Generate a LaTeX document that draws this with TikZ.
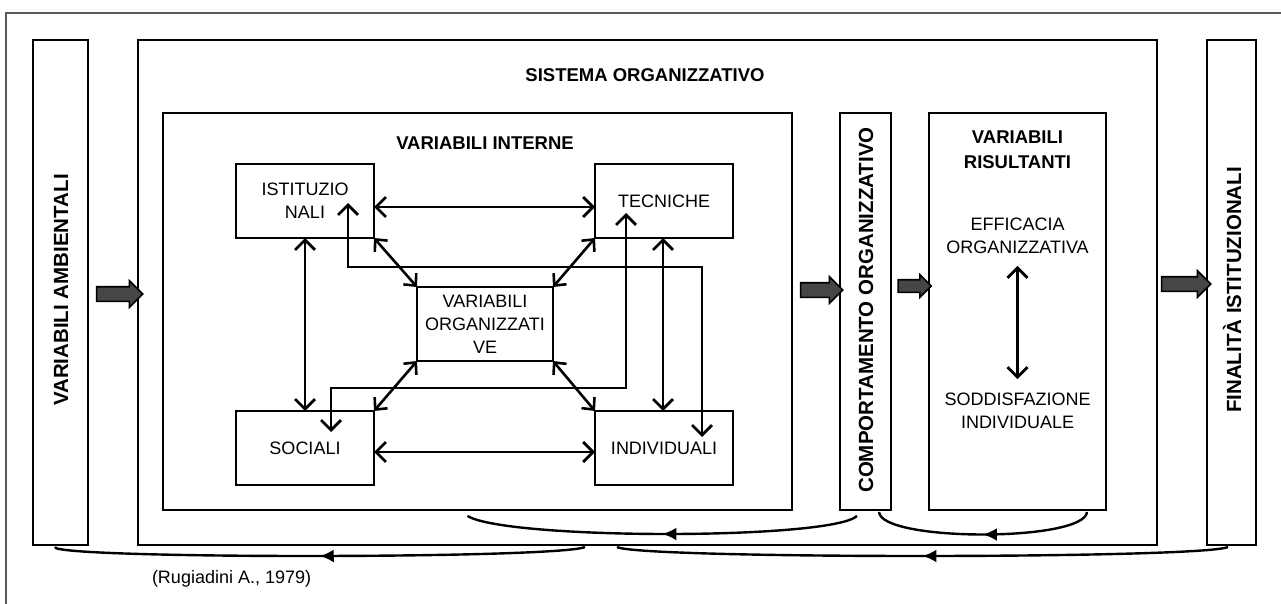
\documentclass[tikz,border=0pt]{standalone}
\usepackage{fontspec}
\setmainfont{Liberation Sans}
\usetikzlibrary{arrows.meta,shapes.arrows,decorations.markings}
\begin{document}
\begin{tikzpicture}[x=1pt,y=-1pt,
  every node/.style={inner sep=0pt, outer sep=0pt},
  frame/.style={draw, line width=2.5pt},
  inbox/.style={draw, line width=2.5pt, align=center, font=\fontsize{18}{23}\selectfont, minimum width=138pt, minimum height=74pt},
  lbl/.style={align=center, font=\fontsize{18}{23}\selectfont},
  ttl/.style={align=center, font=\fontsize{18.5}{25}\selectfont\bfseries},
  vttl/.style={rotate=90, font=\fontsize{20.5}{24}\selectfont\bfseries},
  dbl/.style={line width=2.8pt, {Straight Barb[length=10pt,width=20pt]}-{Straight Barb[length=10pt,width=20pt]}},
  dbls/.style={line width=2.6pt, {Straight Barb[length=9pt,width=17pt]}-{Straight Barb[length=9pt,width=17pt]}},
  midarrow/.style={postaction={decorate}, decoration={markings, mark=at position #1 with {\arrow{Latex[length=14pt,width=13pt]}}}},
  midarrow/.default=0.5,
  fb/.style={line width=2.4pt, midarrow},
  blockarrow/.style={single arrow, draw=black, fill=gray!55!black, line width=1.6pt, inner sep=6.5pt, single arrow head extend=6pt, single arrow tip angle=90}
]
\useasboundingbox (0,0) rectangle (1281,604);
\fill[white] (0,0) rectangle (1281,604);
% outer frame (cropped)
\draw[line width=1.8pt, gray!70!black] (6,604) -- (6,13) -- (1281,13);

% big boxes
\node[frame, minimum width=55pt, minimum height=505pt] (amb) at (60.5,292.5) {};
\node[frame, minimum width=1019pt, minimum height=505pt] (sis) at (647.5,292.5) {};
\node[frame, minimum width=49pt, minimum height=505pt] (fin) at (1231.5,292.5) {};
\node[frame, minimum width=629pt, minimum height=397pt] (vi) at (477.5,311.5) {};
\node[frame, minimum width=51pt, minimum height=397pt] (comp) at (865.5,311.5) {};
\node[frame, minimum width=177pt, minimum height=397pt] (ris) at (1017.5,311.5) {};

% vertical labels
\node[vttl] (tamb) at (61,290) {VARIABILI AMBIENTALI};
\node[vttl] (tcomp) at (866,310) {COMPORTAMENTO ORGANIZZATIVO};
\node[vttl] (tfin) at (1232,290) {FINALITÀ ISTITUZIONALI};

% titles
\node[ttl] (tsis) at (645,75) {SISTEMA ORGANIZZATIVO};
\node[ttl] (tvi) at (485,143) {VARIABILI INTERNE};
\node[ttl] (tris) at (1017.5,150) {VARIABILI\\RISULTANTI};

% results
\node[lbl] (eff) at (1017.5,236) {EFFICACIA\\ORGANIZZATIVA};
\node[lbl] (sod) at (1017.5,411) {SODDISFAZIONE\\INDIVIDUALE};
\draw[dbl] ([yshift=-12pt]eff.south) -- ([yshift=14pt]sod.north);

% inner boxes
\node[inbox] (isti) at (305,201) {ISTITUZIO\\NALI};
\node[inbox] (tec) at (664,201) {TECNICHE};
\node[inbox, minimum width=136pt] (vo) at (485,324) {VARIABILI\\ORGANIZZATI\\VE};
\node[inbox] (soc) at (305,448) {SOCIALI};
\node[inbox] (ind) at (664,448) {INDIVIDUALI};

% connectors among inner boxes
\draw[dbl] ([yshift=-6pt]isti.east) -- ([yshift=-6pt]tec.west);
\draw[dbl] ([yshift=-4pt]soc.east) -- ([yshift=-4pt]ind.west);
\draw[dbl] (isti.south) -- (soc.north);
\draw[dbl] ([xshift=-1pt]tec.south) -- ([xshift=-1pt]ind.north);
\draw[dbls] (isti.south east) -- (vo.north west);
\draw[dbls] (tec.south west) -- (vo.north east);
\draw[dbls] (vo.south west) -- (soc.north east);
\draw[dbls] (vo.south east) -- (ind.north west);
\draw[dbl] ([shift={(43,2)}]isti.center) -- ([shift={(43,66)}]isti.center) -| ([shift={(38,-11)}]ind.center);
\draw[dbl] ([shift={(-38,12)}]tec.center) |- ([shift={(26,-60)}]soc.center) -- ([shift={(26,-16)}]soc.center);

% block arrows
\node[blockarrow, minimum height=46pt] (ba1) at (116,294) {};
\node[blockarrow, minimum height=42pt] (ba2) at (818,290) {};
\node[blockarrow, minimum height=33pt, inner sep=5.5pt, single arrow head extend=5pt] (ba3) at (911.5,286) {};
\node[blockarrow, minimum height=49pt] (ba4) at (1182.5,284) {};

% feedback curves
\draw[fb] ([shift={(-8.5,6)}]comp.south) .. controls ([shift={(-35,30)}]comp.south) and ([shift={(30,30)}]vi.south) .. ([shift={(-10,6)}]vi.south);
\draw[fb] ([shift={(69.5,2)}]ris.south) .. controls ([shift={(67,32)}]ris.south) and ([shift={(15.5,32)}]comp.south) .. ([shift={(13.5,2)}]comp.south);
\draw[fb] ([shift={(-3.5,2)}]fin.south) .. controls ([shift={(-30,14)}]fin.south) and ([shift={(-10,14)}]sis.south) .. ([shift={(-30.5,2)}]sis.south);
\draw[fb] ([shift={(-62.5,2)}]sis.south) .. controls ([shift={(-90,14)}]sis.south) and ([shift={(-10,14)}]amb.south) .. ([shift={(-5.5,2)}]amb.south);

% source
\node[lbl, anchor=west] (src) at (152,579) {(Rugiadini A., 1979)};
\end{tikzpicture}
\end{document}
